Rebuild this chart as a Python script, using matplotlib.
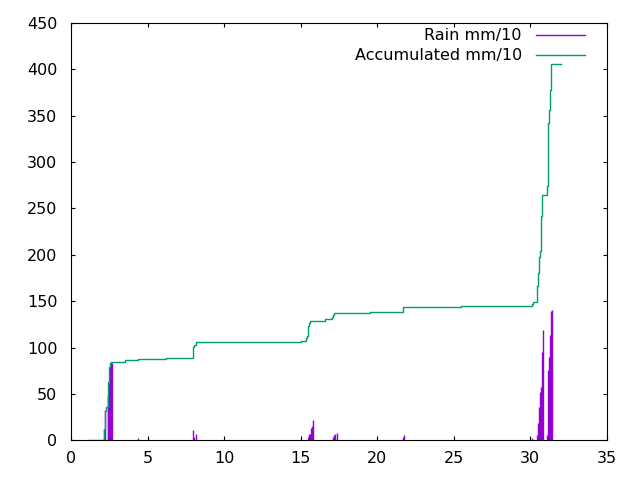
import matplotlib
matplotlib.use("Agg")
import matplotlib.pyplot as plt
from matplotlib.lines import Line2D

# rain impulses (day of month, mm/10)
rain_days = [2.14, 2.22, 2.38, 2.41, 2.47, 2.54, 2.60, 2.66,
             4.34,
             7.95, 8.05, 8.18,
             15.27, 15.50, 15.56, 15.62, 15.69, 15.75, 15.82, 16.05,
             17.04, 17.10, 17.17, 17.23, 17.37,
             21.68, 21.75,
             30.12, 30.42, 30.48, 30.55, 30.61, 30.68, 30.74, 30.81,
             31.09, 31.16, 31.22, 31.29, 31.35, 31.42]
rain_vals = [12, 33, 48, 48, 62, 79, 84, 84,
             2.5,
             11, 4, 7,
             1, 3.6, 6.5, 6.5, 13, 16, 21.6, 1,
             1, 3.6, 5.4, 6.5, 7.6,
             4, 5.4,
             3, 6, 18.5, 36.5, 52.7, 58, 95.8, 119,
             6, 76, 90.4, 113.8, 139, 140.8]

# accumulated rain (step points)
acc_days = [1.10, 2.14, 2.20, 2.25, 2.40, 2.45, 2.52, 2.58, 3.50, 4.38, 6.19,
            7.97, 8.02, 8.18, 11.68, 15.00, 15.34, 15.40, 15.45, 15.50, 15.56,
            15.62, 16.60, 17.06, 17.10, 17.15, 19.52, 21.70, 25.50, 30.09,
            30.20, 30.46, 30.52, 30.59, 30.65, 30.72, 30.78, 31.07, 31.13,
            31.20, 31.26, 31.33, 31.98]
acc_vals = [0, 12, 32, 36, 63, 79, 83, 85, 86.5, 87.6, 88.7,
            101, 103, 105.7, 106.5, 107.5, 110, 113, 118, 123, 127,
            129, 130.6, 133, 135.5, 137.8, 138.8, 144.2, 145.2, 147,
            148.7, 166, 180, 198, 203.7, 241.4, 264.8, 273.8, 342,
            356.5, 378, 405, 405.8]

plt.rcParams['font.family'] = 'DejaVu Sans'
fig = plt.figure(figsize=(6.4, 4.8), dpi=100)
ax = fig.add_axes([0.1114, 0.0823, 0.8366, 0.8704])

ax.vlines(rain_days, 0, rain_vals, color='#9400D3', linewidth=1.0)
ax.plot(acc_days, acc_vals, drawstyle='steps-post', color='#009E73',
        linewidth=1.0)

ax.set_xlim(0, 35)
ax.set_ylim(0, 450)
ax.set_xticks(range(0, 36, 5))
ax.set_yticks(range(0, 451, 50))
ax.tick_params(direction='in', top=True, right=True, length=3.1,
               width=0.8, labelsize=11.5)
ax.tick_params(axis='x', pad=7.5)
ax.tick_params(axis='y', pad=10)
for s in ax.spines.values():
    s.set_linewidth(0.8)

# gnuplot style key: text first, no frame
handles = [Line2D([], [], color='#9400D3', linewidth=1.0),
           Line2D([], [], color='#009E73', linewidth=1.0)]
ax.legend(handles, ['Rain mm/10', 'Accumulated mm/10'], loc='upper right',
          frameon=False, markerfirst=False, fontsize=11.5, handlelength=3.06,
          handletextpad=0.9, labelspacing=0.3, borderpad=0, borderaxespad=0,
          bbox_to_anchor=(0.9595, 0.9865))

fig.savefig('out.png', dpi=100)
